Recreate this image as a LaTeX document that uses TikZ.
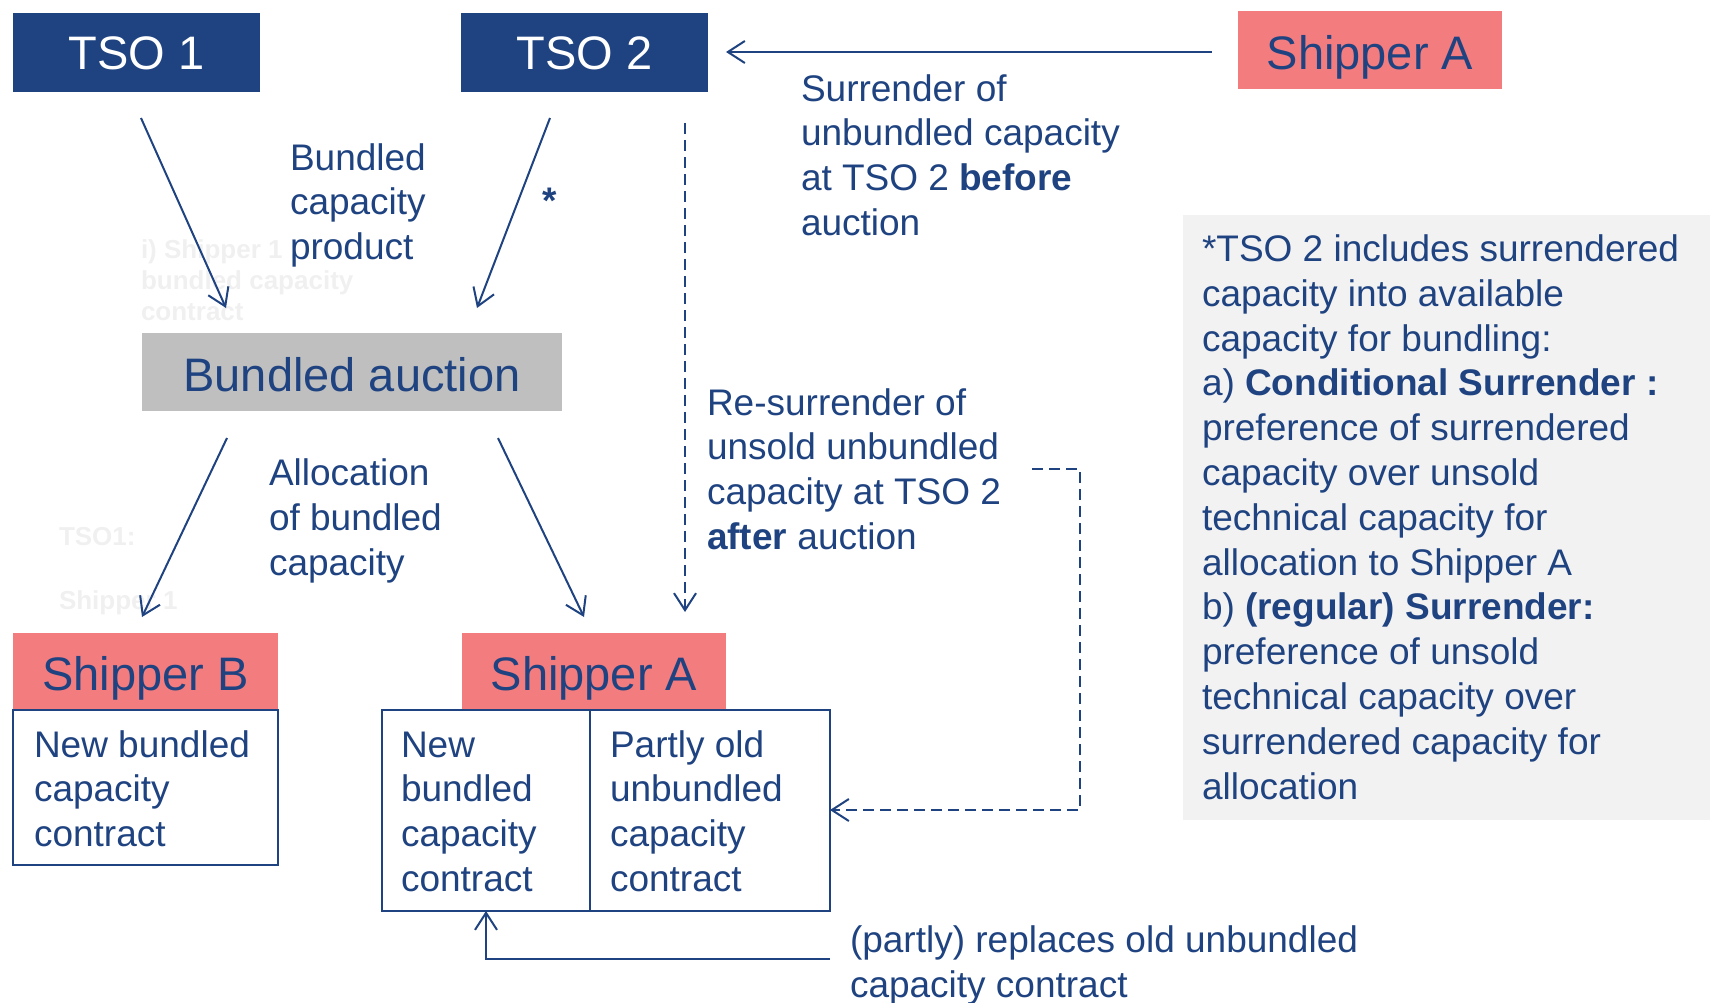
\documentclass[tikz,border=0pt]{standalone}
\usepackage{fontspec}
\setmainfont{Liberation Sans}
\usetikzlibrary{arrows.meta}
\definecolor{dblue}{HTML}{1F4380}
\definecolor{spink}{HTML}{F37C7F}
\definecolor{agray}{HTML}{BFBFBF}
\definecolor{lgray}{HTML}{F2F2F2}
\definecolor{ghost}{HTML}{F0F0F0}
\begin{document}
\begin{tikzpicture}[x=1pt,y=-1pt,
  every node/.style={inner sep=0pt,outer sep=0pt},
  lbl/.style={font=\fontsize{37}{44.8}\selectfont, text=dblue, align=left, anchor=north west},
  boxlbl/.style={font=\fontsize{47}{56}\selectfont, text height=33.6pt, text depth=0pt},
  tsobox/.style={boxlbl, fill=dblue, text=white, minimum width=247pt, minimum height=79pt},
  shipbox/.style={boxlbl, text height=38pt, fill=spink, text=dblue, minimum width=264pt, minimum height=77pt},
  ghosttxt/.style={font=\fontsize{26}{31}\selectfont\bfseries, text=ghost, align=left, anchor=north west},
  arr/.style={draw=dblue, line width=2pt, -{Straight Barb[length=17pt,width=22pt]}},
  darr/.style={arr, dash pattern=on 11pt off 6pt},
  frame/.style={draw=dblue, line width=2pt}
]
\useasboundingbox (0,0) rectangle (1710,1002);

% faint background texts
\node[ghosttxt] (g1) at (141,236.3) {\strut i) Shipper 1 :\\bundled capacity\\contract};
\node[ghosttxt] (g2) at (59,523.3) {\strut TSO1:};
\node[ghosttxt] (g3) at (59,587.3) {\strut Shipper 1};

% boxes
\node[tsobox] (tso1) at (136.5,52.5) {TSO 1};
\node[tsobox] (tso2) at (584.5,52.5) {TSO 2};
\node[shipbox, minimum height=78pt] (shAtop) at (1370,50) {Shipper A};
\node[boxlbl, text height=38pt, fill=agray, text=dblue, minimum width=420pt, minimum height=78pt] (auction) at (352,372) {Bundled auction};
\node[shipbox, minimum width=265pt] (shB) at (145.5,671) {Shipper B};
\node[shipbox] (shA) at (594,671) {Shipper A};

% contract boxes
\node[frame, minimum width=265pt, minimum height=155pt] (cB) at (145.5,787.5) {};
\node[frame, minimum width=448pt, minimum height=201pt] (cA) at (606,810.5) {};
\coordinate (dv) at (590,0);
\draw[frame] (dv |- cA.north) -- (dv |- cA.south);

\node[lbl] (cBt) at (34,725.8) {\strut New bundled\\capacity\\contract};
\node[lbl] (cA1) at (401,725.8) {\strut New\\bundled\\capacity\\contract};
\node[lbl] (cA2) at (610,725.8) {\strut Partly old\\unbundled\\capacity\\contract};

% note box
\node[fill=lgray, minimum width=527pt, minimum height=605pt, anchor=north west] (note) at (1183,215) {};
\node[lbl] (notetxt) at (1202,230.2) {\strut *TSO 2 includes surrendered\\capacity into available\\capacity for bundling:\\a) \textbf{Conditional Surrender :}\\preference of surrendered\\capacity over unsold\\technical capacity for\\allocation to Shipper A\\b) \textbf{(regular) Surrender:}\\preference of unsold\\technical capacity over\\surrendered capacity for\\allocation};

% labels
\node[lbl] (surr) at (801,69.8) {\strut Surrender of\\unbundled capacity\\at TSO 2 \textbf{before}\\auction};
\node[lbl] (bcp) at (290,138.8) {\strut Bundled\\capacity\\product};
\node[lbl] (alloc) at (269,454.2) {\strut Allocation\\of bundled\\capacity};
\node[lbl] (resurr) at (707,383.8) {\strut Re-surrender of\\unsold unbundled\\capacity at TSO 2\\\textbf{after} auction};
\node[lbl] (repl) at (850,921) {\strut (partly) replaces old unbundled\\capacity contract};
\node[font=\fontsize{37}{45}\selectfont\bfseries, text=dblue, anchor=base] (star) at (550,213) {*};

% connectors
\coordinate (t1s) at (141,118); \coordinate (t1e) at (226,308);
\coordinate (t2s) at (550,118); \coordinate (t2e) at (477,308);
\coordinate (b1s) at (227,438); \coordinate (b1e) at (142,617);
\coordinate (b2s) at (498,438); \coordinate (b2e) at (584,617);
\coordinate (d1s) at (685,123); \coordinate (d1e) at (685,612);
\coordinate (d2s) at (1032,469); \coordinate (d2c) at (1080,469); \coordinate (d2d) at (1080,810);
\coordinate (fb) at (830,959); \coordinate (fbx) at (486,0);
\coordinate (sAs) at (1212,52); \coordinate (sAe) at (726,52);

\draw[arr] (sAs) -- (sAe);
\draw[arr] (t1s) -- (t1e);
\draw[arr] (t2s) -- (t2e);
\draw[arr] (b1s) -- (b1e);
\draw[arr] (b2s) -- (b2e);
\draw[darr] (d1s) -- (d1e);
\draw[darr] (d2s) -- (d2c) -- (d2d) -- (cA.east |- d2d);
\draw[arr] (fb) -| (fbx |- cA.south);
\end{tikzpicture}
\end{document}
